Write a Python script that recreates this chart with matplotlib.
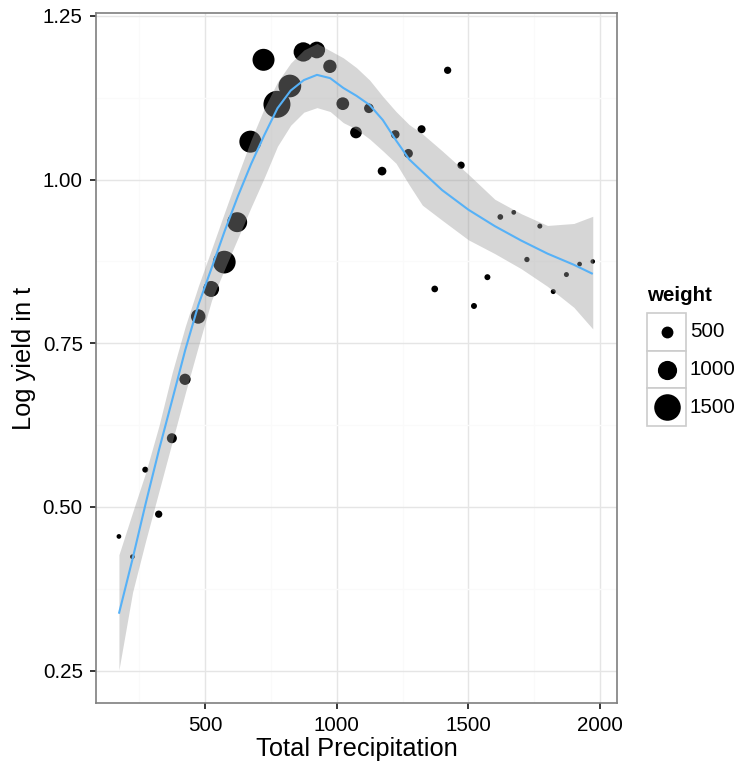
import matplotlib
matplotlib.use("Agg")
import matplotlib.pyplot as plt
from matplotlib.patches import Rectangle
import numpy as np

plt.rcParams['font.family'] = ['Liberation Sans', 'DejaVu Sans']

# points : precipitation, log yield, weight
precip = [173, 224, 273, 324, 374, 424, 474, 523, 573, 622, 672, 722, 773,
          822, 873, 924, 974, 1023, 1073, 1122, 1172, 1222, 1272, 1322, 1372,
          1421, 1472, 1521, 1572, 1621, 1672, 1722, 1771, 1822, 1872, 1922, 1972]
log_yield = [0.455, 0.424, 0.557, 0.489, 0.605, 0.695, 0.791, 0.833, 0.874,
             0.935, 1.058, 1.183, 1.115, 1.143, 1.195, 1.198, 1.173, 1.116,
             1.072, 1.109, 1.013, 1.069, 1.040, 1.077, 0.833, 1.167, 1.022,
             0.807, 0.851, 0.943, 0.950, 0.878, 0.929, 0.829, 0.855, 0.871, 0.875]
weight = [15, 15, 100, 190, 375, 460, 680, 780, 1240, 1050, 1190, 1190, 1530,
          1240, 1010, 830, 600, 560, 490, 350, 285, 285, 305, 240, 150,
          190, 190, 100, 100, 80, 15, 55, 35, 35, 35, 15, 5]

# loess fit
fit_x = [173, 225, 275, 325, 375, 425, 475, 525, 575, 625, 675, 725, 775, 825,
         875, 925, 975, 1025, 1075, 1125, 1175, 1225, 1275, 1325, 1400, 1500,
         1600, 1700, 1800, 1900, 1972]
fit_y = [0.337, 0.421, 0.506, 0.587, 0.663, 0.740, 0.809, 0.865, 0.922, 0.975,
         1.024, 1.068, 1.109, 1.136, 1.152, 1.160, 1.155, 1.140, 1.128, 1.114,
         1.091, 1.060, 1.031, 1.012, 0.984, 0.954, 0.929, 0.907, 0.887, 0.870, 0.856]
fit_hi = [0.427, 0.492, 0.553, 0.624, 0.705, 0.776, 0.838, 0.894, 0.951, 1.007,
          1.061, 1.109, 1.149, 1.178, 1.198, 1.208, 1.197, 1.186, 1.171, 1.152,
          1.127, 1.104, 1.084, 1.070, 1.044, 1.008, 0.970, 0.948, 0.930, 0.933, 0.944]
fit_lo = [0.251, 0.370, 0.449, 0.524, 0.599, 0.674, 0.746, 0.816, 0.864, 0.911,
          0.958, 1.003, 1.051, 1.083, 1.103, 1.110, 1.104, 1.087, 1.077, 1.062,
          1.044, 1.025, 0.992, 0.961, 0.938, 0.908, 0.887, 0.864, 0.837, 0.805, 0.772]

legend_weights = [500, 1000, 1500]


def size_pt2(w):
    # weight -> marker area (points^2), diameter in pixels grows linearly
    d_px = 4.5 + 0.0147 * np.asarray(w, dtype=float)
    return (d_px * 0.72) ** 2


fig = plt.figure(figsize=(7.38, 7.67), dpi=100)
ax = fig.add_axes([96 / 738, 64 / 767, 521 / 738, 690 / 767])

ax.scatter(precip, log_yield, s=size_pt2(weight), c='black', linewidths=0, zorder=2)
ax.fill_between(fit_x, fit_lo, fit_hi, color='#999999', alpha=0.4, linewidth=0, zorder=3)
ax.plot(fit_x, fit_y, color='#56B1F7', lw=1.5, zorder=4,
        solid_joinstyle='round', solid_capstyle='butt')

ax.set_xlim(86, 2064)
ax.set_ylim(0.2006, 1.2545)
ax.set_xticks([500, 1000, 1500, 2000])
ax.set_xticks([250, 750, 1250, 1750], minor=True)
ax.set_yticks([0.25, 0.5, 0.75, 1.0, 1.25])
ax.set_yticklabels(['0.25', '0.50', '0.75', '1.00', '1.25'])
ax.set_yticks([0.375, 0.625, 0.875, 1.125], minor=True)
ax.set_axisbelow(True)
ax.grid(which='major', color='#e5e5e5', lw=1.0)
ax.grid(which='minor', color='#fafafa', lw=1.0)
ax.tick_params(which='major', length=4.5, width=1.1, color='black',
               labelsize=14.8, labelcolor='black', pad=5)
ax.tick_params(which='minor', length=0)
for sp in ax.spines.values():
    sp.set_color('#7f7f7f')
    sp.set_linewidth(1.2)

ax.set_xlabel('Total Precipitation', fontsize=18.3, labelpad=1)
ax.set_ylabel('Log yield in t', fontsize=18.3, labelpad=5)

# legend with boxed keys, ggplot style
lax = fig.add_axes([647 / 738, (767 - 426) / 767, 39 / 738, 113 / 767])
lax.set_xlim(0, 1)
lax.set_ylim(3, 0)
lax.axis('off')
for i, w in enumerate(legend_weights):
    lax.add_patch(Rectangle((0, i), 1, 1, facecolor='white', edgecolor='#cccccc',
                            lw=1.2, clip_on=False))
    lax.scatter([0.5], [i + 0.5], s=size_pt2(w), c='black', linewidths=0,
                clip_on=False, zorder=3)
    lax.text(1.1, i + 0.5, str(w), fontsize=14.8, va='center', ha='left')
lax.text(0.0, -0.2, 'weight', fontsize=14.8, fontweight='bold', ha='left', va='bottom')

fig.savefig('out.png', dpi=100)
